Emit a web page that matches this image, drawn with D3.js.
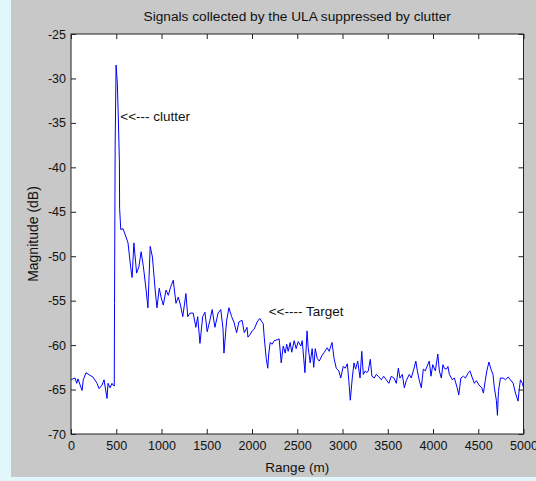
<!DOCTYPE html>
<html>
<head>
<meta charset="utf-8">
<script src="https://cdn.jsdelivr.net/npm/d3@7"></script>
<style>
  html, body { margin: 0; padding: 0; background: #e2f7fc; }
  svg { display: block; }
  text { font-family: Arial, "Liberation Sans", sans-serif; fill: #111; }
</style>
</head>
<body>
<svg id="chart" width="536" height="481"></svg>
<script>
// Range samples (m) and received magnitude (dB)
const rangeM = [
  0, 44, 63, 77, 122, 136, 166, 210, 243, 288, 310, 343, 365, 398, 409, 431, 453, 465, 478,
  481, 488, 498, 512, 524, 535, 537, 550, 575, 620, 630, 660, 675, 695, 725, 750, 775, 800,
  830, 850, 875, 900, 930, 950, 975, 995, 1020, 1050, 1075, 1100, 1130, 1160, 1185, 1210,
  1235, 1270, 1290, 1315, 1350, 1380, 1400, 1425, 1455, 1480, 1505, 1535, 1560, 1590, 1625,
  1655, 1680, 1690, 1720, 1745, 1775, 1800, 1830, 1855, 1890, 1915, 1945, 1955, 1980, 2002,
  2024, 2057, 2085, 2124, 2135, 2157, 2174, 2185, 2201, 2223, 2245, 2278, 2300, 2323, 2345,
  2367, 2383, 2400, 2422, 2439, 2466, 2488, 2511, 2540, 2555, 2585, 2608, 2621, 2643, 2665,
  2682, 2699, 2721, 2743, 2772, 2798, 2831, 2853, 2884, 2907, 2931, 2959, 2981, 3008, 3030,
  3053, 3070, 3086, 3108, 3127, 3145, 3168, 3194, 3213, 3230, 3252, 3269, 3285, 3307, 3325,
  3351, 3373, 3395, 3429, 3455, 3484, 3512, 3539, 3568, 3595, 3617, 3635, 3661, 3683, 3705,
  3738, 3760, 3788, 3810, 3827, 3849, 3871, 3893, 3915, 3934, 3959, 3978, 3997, 4026, 4053,
  4070, 4092, 4110, 4125, 4148, 4165, 4181, 4214, 4236, 4267, 4285, 4308, 4336, 4358, 4391,
  4408, 4435, 4457, 4479, 4509, 4539, 4557, 4577, 4595, 4618, 4640, 4663, 4678, 4700, 4712,
  4723, 4745, 4775, 4800, 4831, 4855, 4886, 4911, 4940, 4955, 4966, 4988, 5000
];
const magnitudeDb = [
  -63.9, -63.7, -64.3, -63.8, -65.1, -63.9, -63.1, -63.4, -63.6, -64.3, -64.9, -64.5, -63.9, -66.0, -64.3, -64.8, -64.3, -64.5, -64.6,
  -55.3, -37.5, -28.5, -30.5, -34.9, -39.5, -44.6, -47.0, -46.9, -48.2, -48.5, -51.3, -52.4, -48.5, -51.9, -51.2, -49.5, -51.2,
  -53.8, -55.8, -48.9, -50.1, -53.8, -55.8, -53.6, -54.6, -55.5, -53.8, -54.4, -53.5, -52.7, -55.3, -54.6, -55.5,
  -56.8, -54.2, -56.8, -56.4, -56.4, -58.0, -56.8, -59.8, -56.8, -56.3, -58.5, -57.2, -56.0, -58.0, -56.4,
  -56.0, -58.2, -60.9, -57.2, -55.8, -56.8, -57.4, -58.6, -57.4, -57.2, -58.6, -58.0, -59.1, -58.8, -58.4,
  -58.2, -57.4, -57.0, -57.6, -59.1, -61.5, -62.6, -61.0, -59.7, -59.9, -59.5, -59.4, -59.3, -62.0, -60.1,
  -60.9, -59.9, -60.7, -59.7, -60.8, -59.5, -60.4, -59.6, -60.1, -59.5, -63.1, -58.4, -60.3, -62.0, -60.4,
  -62.5, -60.4, -61.5, -61.8, -61.2, -60.8, -60.3, -60.7, -59.7, -61.5, -62.6, -62.9, -63.7, -62.4, -62.6,
  -62.1, -64.0, -66.2, -63.7, -62.0, -62.7, -61.8, -63.7, -60.7, -63.3, -62.9, -63.1, -62.9, -61.6, -63.5,
  -63.7, -63.3, -63.5, -63.9, -63.5, -63.9, -64.3, -63.5, -63.7, -64.3, -62.6, -63.7, -63.3, -64.8, -64.0,
  -63.3, -63.7, -62.7, -61.8, -62.9, -64.0, -64.8, -62.7, -62.9, -62.4, -61.8, -63.5, -62.2, -62.9, -61.0,
  -62.9, -63.7, -62.2, -62.6, -62.7, -62.4, -63.3, -63.9, -63.7, -64.8, -65.6, -63.7, -63.5, -63.7, -63.1,
  -62.9, -63.7, -64.3, -64.0, -64.5, -64.8, -65.4, -64.0, -62.9, -61.9, -62.7, -63.3, -64.8, -66.2, -67.9,
  -65.2, -63.7, -63.7, -63.9, -63.6, -63.9, -64.3, -65.4, -66.3, -64.8, -63.9, -64.3, -64.8
];

const xTicks = [0, 500, 1000, 1500, 2000, 2500, 3000, 3500, 4000, 4500, 5000];
const yTicks = [-70, -65, -60, -55, -50, -45, -40, -35, -30, -25];

// Text annotations: [range, dB, label]
const notes = [
  [545, -34.4, "<<--- clutter"],
  [2185, -56.3, "<<---- Target"]
];

const titleText = "Signals collected by the ULA suppressed by clutter";
const xLabel = "Range (m)";
const yLabel = "Magnitude (dB)";

const svg = d3.select("#chart");
const W = 536, H = 481;
const plot = { left: 71, top: 34, right: 523.5, bottom: 434 };

// figure background
svg.append("rect").attr("x", 0).attr("y", 0).attr("width", W).attr("height", H).attr("fill", "#e2f7fc");
svg.append("rect").attr("x", 11).attr("y", 0).attr("width", W - 11).attr("height", 477).attr("fill", "#c8c8c8");

const x = d3.scaleLinear().domain([0, 5000]).range([plot.left, plot.right]);
const y = d3.scaleLinear().domain([-70, -25]).range([plot.bottom, plot.top]);

// axes area
svg.append("rect")
  .attr("x", plot.left).attr("y", plot.top)
  .attr("width", plot.right - plot.left).attr("height", plot.bottom - plot.top)
  .attr("fill", "#ffffff");

const tickLen = 5;
const fmt = d => String(d);   // plain hyphen-minus

const gx = svg.append("g").attr("transform", `translate(0,${plot.bottom})`)
  .call(d3.axisBottom(x).tickValues(xTicks).tickFormat(fmt).tickSizeInner(-tickLen).tickSizeOuter(0).tickPadding(7));
const gxTop = svg.append("g").attr("transform", `translate(0,${plot.top})`)
  .call(d3.axisTop(x).tickValues(xTicks).tickFormat("").tickSizeInner(-tickLen).tickSizeOuter(0));
const gy = svg.append("g").attr("transform", `translate(${plot.left},0)`)
  .call(d3.axisLeft(y).tickValues(yTicks).tickFormat(fmt).tickSizeInner(-tickLen).tickSizeOuter(0).tickPadding(5));
const gyRight = svg.append("g").attr("transform", `translate(${plot.right},0)`)
  .call(d3.axisRight(y).tickValues(yTicks).tickFormat("").tickSizeInner(-tickLen).tickSizeOuter(0));

[gx, gxTop, gy, gyRight].forEach(g => {
  g.select(".domain").remove();
  g.selectAll(".tick line").attr("stroke", "#222").attr("stroke-width", 1);
  g.selectAll(".tick text").attr("font-size", 12.5).attr("fill", "#111")
    .attr("font-family", "Arial, 'Liberation Sans', sans-serif");
});

// signal trace
const pts = rangeM.map((r, i) => [r, magnitudeDb[i]]);
const line = d3.line().x(d => x(d[0])).y(d => y(d[1]));
svg.append("path")
  .datum(pts)
  .attr("d", line)
  .attr("fill", "none")
  .attr("stroke", "#0000ff")
  .attr("stroke-width", 1)
  .attr("stroke-linejoin", "round");

// axes box
svg.append("rect")
  .attr("x", plot.left).attr("y", plot.top)
  .attr("width", plot.right - plot.left).attr("height", plot.bottom - plot.top)
  .attr("fill", "none").attr("stroke", "#222").attr("stroke-width", 1);

// annotations
svg.selectAll("text.note").data(notes).enter().append("text")
  .attr("class", "note")
  .attr("x", d => x(d[0])).attr("y", d => y(d[1]))
  .attr("dominant-baseline", "middle")
  .attr("font-size", 13.5)
  .text(d => d[2]);

// title and axis labels
svg.append("text")
  .attr("x", (plot.left + plot.right) / 2).attr("y", 21)
  .attr("text-anchor", "middle").attr("font-size", 13.7)
  .text(titleText);

svg.append("text")
  .attr("x", (plot.left + plot.right) / 2).attr("y", 472)
  .attr("text-anchor", "middle").attr("font-size", 13.5)
  .text(xLabel);

svg.append("text")
  .attr("transform", `translate(38,${(plot.top + plot.bottom) / 2}) rotate(-90)`)
  .attr("text-anchor", "middle").attr("font-size", 14)
  .text(yLabel);
</script>
</body>
</html>
